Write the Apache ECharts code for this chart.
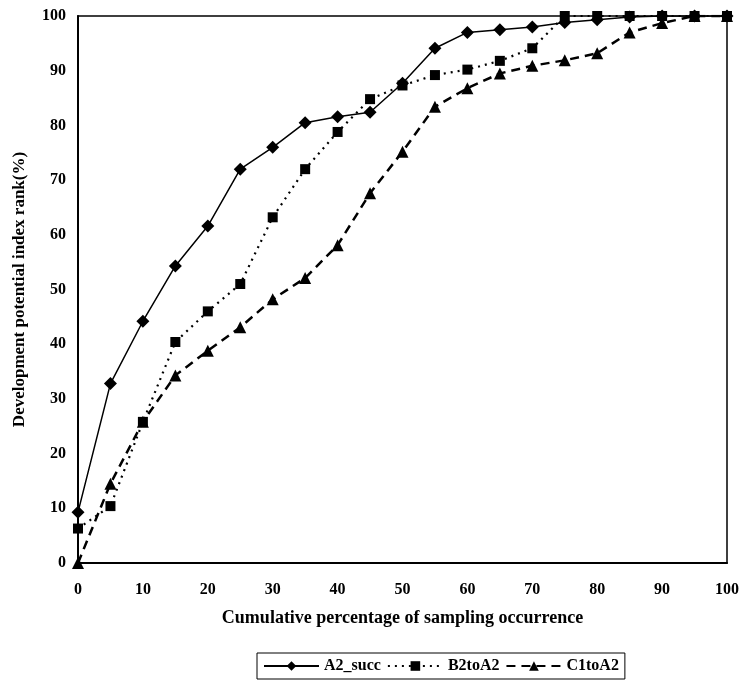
<!DOCTYPE html>
<html><head><meta charset="utf-8">
<script src="https://cdn.jsdelivr.net/npm/echarts@6/dist/echarts.min.js"></script>
<style>html,body{margin:0;padding:0;background:#fff}#c{width:742px;height:688px}</style>
</head><body><div id="c"></div>
<script>
const xValues = [0,5,10,15,20,25,30,35,40,45,50,55,60,65,70,75,80,85,90,95,100];
const a2Succ = [9.3,32.8,44.2,54.3,61.6,72.0,76.0,80.5,81.6,82.4,87.7,94.1,97.0,97.5,98.0,98.8,99.3,99.8,100,100,100];
const b2toA2 = [6.3,10.4,25.8,40.4,46.0,51.0,63.2,72.0,78.8,84.8,87.3,89.2,90.2,91.8,94.1,100,100,100,100,100,100];
const c1toA2 = [0,14.5,25.8,34.3,38.8,43.1,48.2,52.1,58.1,67.6,75.2,83.4,86.8,89.5,90.9,91.9,93.2,97.0,98.7,100,100];
const seriesNames = ['A2_succ','B2toA2','C1toA2'];

const font = 'Liberation Serif';
const pair = arr => xValues.map((x,i)=>[x,arr[i]]);
const chart = echarts.init(document.getElementById('c'));
chart.setOption({
  animation:false,
  backgroundColor:'#fff',
  grid:{left:78,right:14,top:16,bottom:125,show:true,borderColor:'#000',borderWidth:1.5},
  xAxis:{type:'value',min:0,max:100,interval:10,
    name:'Cumulative percentage of sampling occurrence',nameLocation:'middle',nameGap:46,
    nameTextStyle:{fontFamily:font,fontSize:18,fontWeight:'bold',color:'#000'},
    axisLine:{lineStyle:{color:'#000',width:2}},axisTick:{show:false},splitLine:{show:false},
    axisLabel:{fontFamily:font,fontSize:16,fontWeight:'bold',color:'#000',margin:19}},
  yAxis:{type:'value',min:0,max:100,interval:10,
    name:'Development potential index rank(%)',nameLocation:'middle',nameGap:50,
    nameTextStyle:{fontFamily:font,fontSize:17,fontWeight:'bold',color:'#000'},
    axisLine:{show:true,lineStyle:{color:'#000',width:2}},axisTick:{show:false},splitLine:{show:false},
    axisLabel:{fontFamily:font,fontSize:16,fontWeight:'bold',color:'#000',margin:12}},
  legend:{bottom:9,left:257,itemWidth:55,itemHeight:12,itemGap:6,
    borderColor:'#000',borderWidth:1,padding:[5,6],
    textStyle:{fontFamily:font,fontSize:16,fontWeight:'bold',color:'#000'},
    data:seriesNames},
  series:[
    {name:seriesNames[0],type:'line',data:pair(a2Succ),symbol:'diamond',symbolSize:13,
      lineStyle:{color:'#000',width:1.5,type:'solid'},itemStyle:{color:'#000'}},
    {name:seriesNames[1],type:'line',data:pair(b2toA2),symbol:'rect',symbolSize:10,
      lineStyle:{color:'#000',width:2.2,type:[2,5]},itemStyle:{color:'#000'}},
    {name:seriesNames[2],type:'line',data:pair(c1toA2),symbol:'triangle',symbolSize:12,
      lineStyle:{color:'#000',width:2.5,type:[9,6]},itemStyle:{color:'#000'}}
  ]
});
</script></body></html>
